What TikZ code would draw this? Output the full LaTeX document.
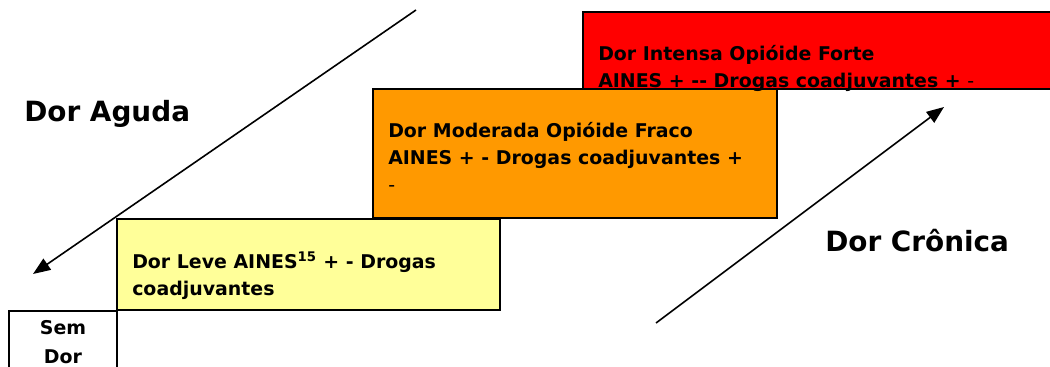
\documentclass[tikz,border=0pt]{standalone}
\usepackage{fontspec}
\setmainfont{DejaVu Sans}
\usetikzlibrary{arrows.meta}
\definecolor{cyel}{HTML}{FFFF99}
\definecolor{corg}{HTML}{FF9900}
\definecolor{cred}{HTML}{FF0000}
\begin{document}
\begin{tikzpicture}[x=0.75pt,y=-0.75pt,
  boxst/.style={draw=black,line width=2.2pt},
  txt/.style={anchor=base west,inner sep=0pt,font=\bfseries\fontsize{14.2}{20.3}\selectfont,align=left},
  big/.style={anchor=base west,inner sep=0pt,font=\bfseries\fontsize{20.9}{24}\selectfont},
  arr/.style={line width=1.2pt,-{Triangle[length=13pt,width=10pt]}}]
\useasboundingbox (0,0) rectangle (1050,367);
\begin{scope}
\clip (0,0) rectangle (1050,367);
% red box
\path[boxst,fill=cred] (583,12) rectangle (1060,89);
% orange box
\path[boxst,fill=corg] (373,89) rectangle (777,218);
% yellow box
\path[boxst,fill=cyel] (117,219) rectangle (500,310);
% sem dor box
\path[boxst] (117,380) -- (117,311) -- (9,311) -- (9,380);
\end{scope}
\node[txt] (tred) at (598,88) {Dor Intensa Opióide Forte\\AINES + {-}{-} Drogas coadjuvantes + {\mdseries-}};
\node[txt] (torg) at (388,192) {Dor Moderada Opióide Fraco\\AINES + - Drogas coadjuvantes +\\{\mdseries-}};
\node[txt] (tyel) at (132,296) {Dor Leve AINES\textsuperscript{15} + - Drogas\\coadjuvantes};
\node[txt,anchor=base,align=center,font=\bfseries\fontsize{14.2}{21.7}\selectfont] (tsem) at (63,363) {Sem\\Dor};
\node[big] (aguda) at (24,122) {Dor Aguda};
\node[big] (cronica) at (825,252) {Dor Crônica};
\coordinate (a1) at (416,10);
\coordinate (a2) at (33,274);
\coordinate (c1) at (656,323);
\coordinate (c2) at (944,107);
\draw[arr] (a1) -- (a2);
\draw[arr] (c1) -- (c2);
\end{tikzpicture}
\end{document}
